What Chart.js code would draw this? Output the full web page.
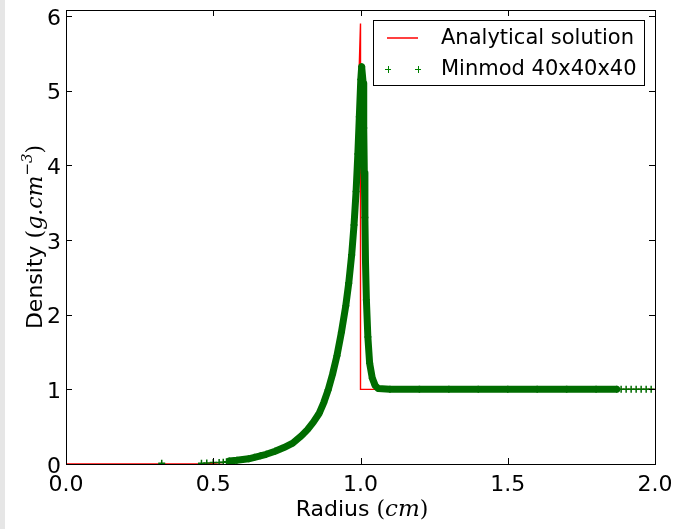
<!DOCTYPE html>
<html>
<head>
<meta charset="utf-8">
<script src="https://cdn.jsdelivr.net/npm/chart.js@4.4.0/dist/chart.umd.min.js"></script>
<style>
  html, body { margin: 0; padding: 0; background: #fff; }
  canvas { display: block; }
</style>
</head>
<body>
<canvas id="chart" width="680" height="529"></canvas>
<script>
// Sedov blast wave density profile
const analyticalR   = [0, 0.45, 0.5, 0.55, 0.6, 0.65, 0.7, 0.75, 0.8, 0.84, 0.87, 0.9, 0.92, 0.94, 0.955, 0.965, 0.975, 0.985, 0.993, 1.0, 1.0, 2.0];
const analyticalRho = [0, 0.0, 0.01, 0.025, 0.045, 0.08, 0.13, 0.22, 0.36, 0.55, 0.76, 1.06, 1.36, 1.78, 2.2, 2.6, 3.3, 4.15, 4.95, 5.9, 1.0, 1.0];

const minmodR = [
  0.325, 0.46, 0.478, 0.5, 0.52, 0.534, 0.545,
  0.555, 0.58, 0.60, 0.62, 0.64, 0.66, 0.68, 0.71, 0.74, 0.77, 0.80, 0.82, 0.84, 0.86, 0.875, 0.89, 0.905,
  0.92, 0.935, 0.95, 0.96, 0.97, 0.978, 0.985, 0.991, 0.996, 1.001, 1.004,
  1.009, 1.011, 1.013, 1.015, 1.017, 1.02, 1.025, 1.031, 1.04, 1.05, 1.06,
  1.1, 1.2, 1.3, 1.4, 1.5, 1.6, 1.7, 1.8, 1.87,
  1.885, 1.902, 1.919, 1.936, 1.953, 1.97, 1.987
];
const minmodRho = [
  0.01, 0.01, 0.015, 0.02, 0.02, 0.025, 0.03,
  0.04, 0.05, 0.06, 0.07, 0.09, 0.11, 0.13, 0.17, 0.22, 0.28, 0.38, 0.46, 0.56, 0.68, 0.82, 0.99, 1.2,
  1.45, 1.76, 2.12, 2.42, 2.8, 3.2, 3.65, 4.15, 4.65, 5.15, 5.32,
  5.1, 4.5, 3.9, 3.3, 2.7, 2.2, 1.7, 1.35, 1.15, 1.05, 1.01,
  1.0, 1.0, 1.0, 1.0, 1.0, 1.0, 1.0, 1.0, 1.0,
  1.0, 1.0, 1.0, 1.0, 1.0, 1.0, 1.0
];

const xTicks = [0, 0.5, 1.0, 1.5, 2.0];
const yTicks = [0, 1, 2, 3, 4, 5, 6];

const bandColor = 'rgb(0, 108, 0)';
const sans = "'DejaVu Sans', sans-serif";
const serif = "'DejaVu Serif', serif";

function drawParts(ctx, parts, cx, baseY) {
  let total = 0;
  parts.forEach(p => { ctx.font = p.font; total += ctx.measureText(p.t).width; });
  let x = cx - total / 2;
  parts.forEach(p => {
    ctx.font = p.font;
    ctx.fillText(p.t, x, baseY - (p.dy || 0));
    x += ctx.measureText(p.t).width;
  });
}

// frame, inward ticks, axis titles and legend drawn matplotlib style
const mplDecor = {
  id: 'mplDecor',
  beforeDraw(chart) {
    const ctx = chart.ctx;
    ctx.save();
    ctx.fillStyle = '#fff';
    ctx.fillRect(0, 0, chart.width, chart.height);
    ctx.fillStyle = '#e6e6e6';
    ctx.fillRect(0, 0, 5, chart.height);
    ctx.restore();
  },
  afterDraw(chart) {
    const ctx = chart.ctx;
    const a = chart.chartArea;
    const xs = chart.scales.x, ys = chart.scales.y;
    ctx.save();
    ctx.strokeStyle = '#000';
    ctx.lineWidth = 1;
    ctx.strokeRect(Math.round(a.left) + 0.5, Math.round(a.top) + 0.5,
      Math.round(a.right - a.left), Math.round(a.bottom - a.top));

    ctx.beginPath();
    xTicks.forEach(v => {
      const px = Math.round(xs.getPixelForValue(v)) + 0.5;
      ctx.moveTo(px, a.bottom); ctx.lineTo(px, a.bottom - 6);
      ctx.moveTo(px, a.top); ctx.lineTo(px, a.top + 6);
    });
    yTicks.forEach(v => {
      const py = Math.round(ys.getPixelForValue(v)) + 0.5;
      ctx.moveTo(a.left, py); ctx.lineTo(a.left + 6, py);
      ctx.moveTo(a.right, py); ctx.lineTo(a.right - 6, py);
    });
    ctx.stroke();

    // axis titles
    ctx.fillStyle = '#000';
    ctx.textBaseline = 'alphabetic';
    drawParts(ctx, [
      { t: 'Radius ', font: '22px ' + sans },
      { t: '(', font: '22px ' + serif },
      { t: 'cm', font: 'italic 23px ' + serif },
      { t: ')', font: '22px ' + serif }
    ], 362, 516);

    ctx.save();
    ctx.translate(42, 237);
    ctx.rotate(-Math.PI / 2);
    drawParts(ctx, [
      { t: 'Density ', font: '22px ' + sans },
      { t: '(', font: '22px ' + serif },
      { t: 'g.cm', font: 'italic 22px ' + serif },
      { t: '\u22123', font: 'italic 15px ' + serif, dy: 10 },
      { t: ')', font: '22px ' + serif }
    ], 0, 0);
    ctx.restore();

    // legend box
    const lx = 373, ly = 20, lw = 271, lh = 65;
    ctx.fillStyle = '#fff';
    ctx.fillRect(lx, ly, lw, lh);
    ctx.strokeStyle = '#000';
    ctx.strokeRect(lx + 0.5, ly + 0.5, lw, lh);

    const ds = chart.data.datasets;
    const red = ds.find(d => d.id === 'analytical');
    const grn = ds.find(d => d.id === 'minmod');

    ctx.strokeStyle = red.borderColor;
    ctx.lineWidth = 1.5;
    ctx.beginPath();
    ctx.moveTo(387, 38); ctx.lineTo(418, 38);
    ctx.stroke();

    ctx.strokeStyle = '#008000';
    ctx.lineWidth = 1;
    ctx.beginPath();
    [388, 418].forEach(cx => {
      ctx.moveTo(cx - 3, 69.5); ctx.lineTo(cx + 3, 69.5);
      ctx.moveTo(cx + 0.5, 66); ctx.lineTo(cx + 0.5, 73);
    });
    ctx.stroke();

    ctx.fillStyle = '#000';
    ctx.font = '21px ' + sans;
    ctx.textBaseline = 'middle';
    ctx.fillText(red.label, 441, 39);
    ctx.fillText(grn.label, 441, 70);
    ctx.restore();
  }
};

new Chart(document.getElementById('chart'), {
  type: 'scatter',
  data: {
    datasets: [
      {
        id: 'minmod',
        label: 'Minmod 40x40x40',
        data: minmodR.map((r, i) => ({ x: r, y: minmodRho[i] })),
        showLine: true,
        borderColor: bandColor,
        borderWidth: 7,
        borderCapStyle: 'round',
        borderJoinStyle: 'round',
        segment: {
          borderColor: c => (c.p0.parsed.x < 0.55 || c.p1.parsed.x > 1.875) ? 'rgba(0,0,0,0)' : bandColor
        },
        pointStyle: 'cross',
        pointRadius: 3.5,
        pointBorderWidth: 1.5,
        pointBorderColor: bandColor,
        pointBackgroundColor: bandColor,
        clip: 0,
        order: 0
      },
      {
        id: 'analytical',
        label: 'Analytical solution',
        data: analyticalR.map((r, i) => ({ x: r, y: analyticalRho[i] })),
        showLine: true,
        borderColor: '#ff0000',
        borderWidth: 1.4,
        pointRadius: 0,
        tension: 0,
        clip: 0,
        order: 1
      }
    ]
  },
  options: {
    responsive: false,
    animation: false,
    events: [],
    layout: { padding: { left: 0, right: 25, top: 10, bottom: 0 } },
    plugins: { legend: { display: false }, tooltip: { enabled: false } },
    scales: {
      x: {
        type: 'linear',
        min: 0, max: 2,
        afterBuildTicks: s => { s.ticks = xTicks.map(v => ({ value: v })); },
        afterFit: s => { s.height = 65; s.paddingLeft = 0; s.paddingRight = 0; },
        grid: { display: false, drawTicks: false },
        border: { display: false },
        ticks: {
          padding: 8,
          color: '#000',
          font: { family: sans, size: 22 },
          maxRotation: 0,
          callback: v => v.toFixed(1)
        }
      },
      y: {
        type: 'linear',
        min: 0, max: 6.08,
        afterBuildTicks: s => { s.ticks = yTicks.map(v => ({ value: v })); },
        afterFit: s => { s.width = 66; s.paddingTop = 0; s.paddingBottom = 0; },
        grid: { display: false, drawTicks: false },
        border: { display: false },
        ticks: {
          padding: 5,
          labelOffset: 3,
          color: '#000',
          font: { family: sans, size: 22 },
          callback: v => String(v)
        }
      }
    }
  },
  plugins: [mplDecor]
});
</script>
</body>
</html>
